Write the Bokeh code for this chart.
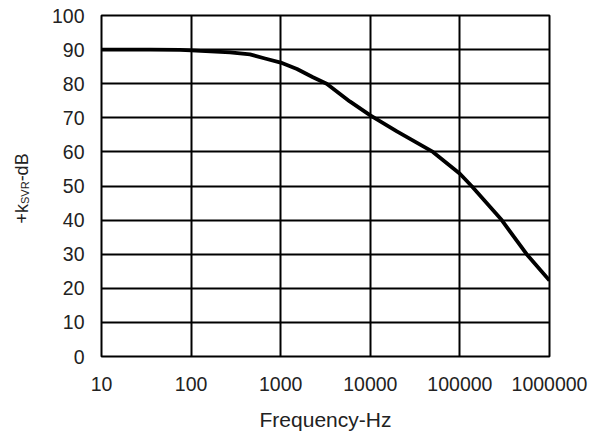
import math
from bokeh.plotting import figure
from bokeh.layouts import row
from bokeh.models import FixedTicker, Label, Range1d
from bokeh.embed import file_html
from bokeh.resources import INLINE

# ---- data ----
freq_hz = [10, 35, 75, 100, 272, 454, 668, 1000, 1520, 2290, 3260, 5900,
           10000, 19800, 50000, 100000, 135000, 293000, 556000, 1000000]
ksvr_db = [90.0, 90.0, 89.9, 89.8, 89.2, 88.6, 87.4, 86.2, 84.3, 81.9, 80.0, 74.8,
           70.7, 66.0, 60.0, 53.6, 50.0, 40.0, 30.0, 22.3]

x_ticks = [10, 100, 1000, 10000, 100000, 1000000]
x_tick_labels = ["10", "100", "1000", "10000", "100000", "1000000"]
y_ticks = [0, 10, 20, 30, 40, 50, 60, 70, 80, 90, 100]
y_tick_labels = ["0", "10", "20", "30", "40", "50", "60", "70", "80", "90", "100"]

x_title = "Frequency-Hz"
y_title_parts = ["+k", "SVR", "-dB"]

TICK_FONT = "Liberation Sans"
LABEL_FONT = "Liberation Sans"

LEFT_W = 45

# ---- narrow left panel holding the rotated y title ----
t = figure(width=LEFT_W, height=446, x_range=Range1d(0, 1), y_range=Range1d(0, 1),
           output_backend="svg", toolbar_location=None,
           x_axis_location=None, y_axis_location=None,
           min_border_left=0, min_border_right=0, min_border_top=0, min_border_bottom=0)
t.outline_line_color = None
t.background_fill_color = "white"
t.border_fill_color = "white"
t.xgrid.visible = False
t.ygrid.visible = False

main_size = 18
sub_size = 11
w_main1 = 1.084 * main_size
w_sub = 2.056 * sub_size
base_y = 133
common = dict(x_units="screen", y_units="screen", angle=math.pi / 2,
              text_align="left", text_baseline="alphabetic",
              text_font=LABEL_FONT, text_color="#222222")
t.add_layout(Label(x=21, y=base_y, text=y_title_parts[0],
                   text_font_size=f"{main_size}px", **common))
t.add_layout(Label(x=24, y=base_y + w_main1, text=y_title_parts[1],
                   text_font_size=f"{sub_size}px", **common))
t.add_layout(Label(x=21, y=base_y + w_main1 + w_sub, text=y_title_parts[2],
                   text_font_size=f"{main_size}px", **common))

# ---- main chart ----
p = figure(width=589 - LEFT_W, height=446, x_axis_type="log",
           x_range=Range1d(10, 1000000), y_range=Range1d(0, 100),
           output_backend="svg", toolbar_location=None,
           min_border_left=101 - LEFT_W, min_border_right=40,
           min_border_top=15, min_border_bottom=90)

p.background_fill_color = "white"
p.border_fill_color = "white"
p.outline_line_color = "black"
p.outline_line_width = 2

p.line(freq_hz, ksvr_db, line_color="black", line_width=3.8, line_join="round")

p.xaxis.ticker = FixedTicker(ticks=x_ticks, minor_ticks=[])
p.yaxis.ticker = FixedTicker(ticks=y_ticks, minor_ticks=[])
p.xaxis.major_label_overrides = {t_: s for t_, s in zip(x_ticks, x_tick_labels)}
p.yaxis.major_label_overrides = {t_: s for t_, s in zip(y_ticks, y_tick_labels)}

for ax in (p.xaxis[0], p.yaxis[0]):
    ax.axis_line_color = None
    ax.major_tick_line_color = None
    ax.minor_tick_line_color = None
    ax.major_tick_out = 0
    ax.major_tick_in = 0
    ax.major_label_text_font = TICK_FONT
    ax.major_label_text_font_size = "19.5px"
    ax.major_label_text_color = "#222222"

p.yaxis.major_label_standoff = 17
p.xaxis.major_label_standoff = 20

p.xaxis.axis_label = x_title
p.xaxis.axis_label_text_font = LABEL_FONT
p.xaxis.axis_label_text_font_size = "21px"
p.xaxis.axis_label_text_font_style = "normal"
p.xaxis.axis_label_text_color = "#222222"
p.xaxis.axis_label_standoff = 14

p.xgrid.grid_line_color = "black"
p.xgrid.grid_line_width = 2
p.ygrid.grid_line_color = "black"
p.ygrid.grid_line_width = 2

layout = row(t, p, spacing=0)
open("out.html", "w").write(file_html(layout, INLINE))
